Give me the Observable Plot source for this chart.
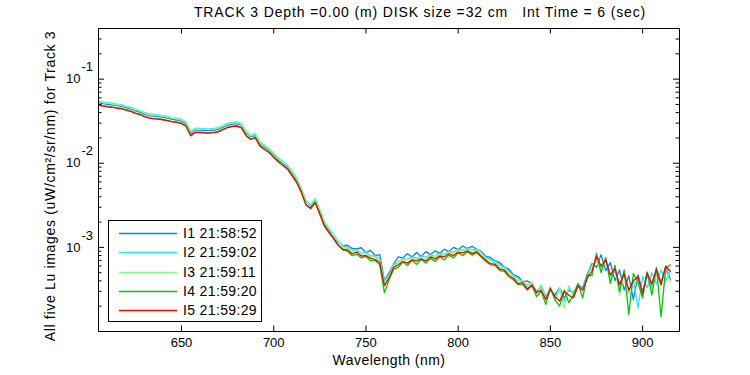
<!DOCTYPE html>
<html>
<head>
<meta charset="utf-8">
<script src="https://cdn.jsdelivr.net/npm/d3@7"></script>
<script src="https://cdn.jsdelivr.net/npm/@observablehq/plot@0.6"></script>
<style>
  html, body { margin: 0; padding: 0; background: #fff; }
  #wrap { position: relative; width: 750px; height: 375px; font-family: "Liberation Sans", Arial, sans-serif; }
  #title { position: absolute; left: 0; width: 840px; top: 4px; text-align: center; font-size: 14px; letter-spacing: 0.85px; color: #000; white-space: pre; }
  #legend { position: absolute; left: 108px; top: 220px; width: 154px; height: 102px; border: 1px solid #000; background: #fff; box-sizing: border-box; }
  .lg { position: absolute; left: 0; width: 152px; height: 18px; font-size: 14px; line-height: 18px; letter-spacing: 0.35px; white-space: nowrap; }
  .lg svg { position: absolute; left: 10px; top: 8px; }
  .lg span.tx { position: absolute; left: 74px; top: 0; }
</style>
</head>
<body>
<div id="wrap"></div>
<script>
// ---------- data ----------
const titleText = "TRACK 3 Depth =0.00 (m) DISK size =32 cm   Int Time = 6 (sec)";
const xLabel = "Wavelength (nm)";
const yLabel = "All five Lu images (uW/cm²/sr/nm) for Track 3";
const seriesNames = ["I1 21:58:52", "I2 21:59:02", "I3 21:59:11", "I4 21:59:20", "I5 21:59:29"];
const seriesColors = ["#0a7cff", "#22e8ff", "#80ff80", "#00c800", "#ff0000"];
const xTicks = [650, 700, 750, 800, 850, 900];
const yMajorTicks = [1e-1, 1e-2, 1e-3];
const yMinorTicks = [2e-4,3e-4,4e-4,5e-4,6e-4,7e-4,8e-4,9e-4, 2e-3,3e-3,4e-3,5e-3,6e-3,7e-3,8e-3,9e-3, 2e-2,3e-2,4e-2,5e-2,6e-2,7e-2,8e-2,9e-2, 2e-1,3e-1,4e-1];
const xDomain = [605, 920];
const yDomain = [1e-4, 0.4];
// sample wavelengths (nm): 605 to 915 every 2.5 nm
const wavelengths = d3.range(605, 915.01, 2.5);

// rows: 605-737.5 | 740-810 | 812.5-837.5 | 840-915
const i1 = [
.0524,.0511,.0502,.0495,.0483,.0475,.0457,.0442,.0418,.0406,.0384,.0368,.0364,.0358,.0352,.0343,.0332,.0327,.0317,.0294,
.0230,.0249,.0248,.0246,.0244,.0247,.0254,.0269,.0285,.0292,.0296,.0283,.0230,.0206,.0215,.0173,.0156,.0143,.0127,.0111,
.0101,.0091,.0076,.0063,.0048,.0035,.0031,.0036,.0027,.0019,.00161,.00136,.00115,.00105,
.00106,.00097,.00096,.00099,.00086,.00092,.00080,.00082,.00040,.00050,.00063,.00077,.00075,.00084,.00077,.00087,.00078,.00089,.00082,.00091,
.00085,.00095,.00089,.00100,.00094,.00104,.00097,.00103,.00095,
.00090,.00078,.00076,.00069,.00066,.00058,.00055,.00047,.00045,.00039,.00040,
.00037,.00030,.00034,.00026,.00031,.00027,.00033,.00025,.00031,.00029,.00036,.00033,.00048,.00064,.00058,.00082,.00053,.00066,.00040,.00054,
.00031,.00046,.00024,.00047,.00030,.00050,.00033,.00055,.00038,.00058,.00042];
const i2 = [
.0549,.0535,.0525,.0519,.0505,.0497,.0478,.0463,.0438,.0424,.0402,.0385,.0381,.0375,.0368,.0360,.0347,.0343,.0332,.0308,
.0240,.0261,.0260,.0258,.0255,.0259,.0265,.0281,.0298,.0306,.0310,.0296,.0240,.0215,.0225,.0180,.0164,.0150,.0132,.0116,
.0105,.0095,.0080,.0066,.0050,.0036,.0032,.0038,.0028,.0020,.00168,.00141,.00119,.00104,
.00100,.00091,.00094,.00085,.00088,.00079,.00079,.00072,.00039,.00047,.00062,.00067,.00074,.00072,.00077,.00074,.00079,.00076,.00082,.00078,
.00086,.00083,.00090,.00088,.00095,.00093,.00099,.00093,.00095,
.00088,.00076,.00072,.00068,.00062,.00058,.00052,.00046,.00043,.00038,.00036,
.00038,.00029,.00036,.00026,.00033,.00024,.00032,.00023,.00033,.00028,.00037,.00032,.00046,.00060,.00071,.00058,.00068,.00046,.00052,.00036,
.00048,.00029,.00042,.00019,.00045,.00033,.00050,.00037,.00054,.00040,.00052];
const i3 = [
.0539,.0526,.0516,.0509,.0496,.0488,.0470,.0454,.0430,.0417,.0395,.0378,.0374,.0369,.0362,.0353,.0341,.0337,.0326,.0303,
.0236,.0256,.0255,.0253,.0251,.0254,.0261,.0276,.0293,.0300,.0305,.0290,.0236,.0211,.0221,.0177,.0161,.0147,.0130,.0114,
.0103,.0094,.0078,.0065,.0050,.0035,.0032,.0037,.0028,.0020,.00165,.00139,.00117,.00101,
.00096,.00090,.00091,.00084,.00085,.00077,.00077,.00071,.00037,.00046,.00060,.00066,.00072,.00071,.00075,.00072,.00076,.00075,.00079,.00077,
.00082,.00081,.00087,.00086,.00092,.00091,.00095,.00092,.00092,
.00084,.00075,.00069,.00066,.00058,.00057,.00049,.00045,.00040,.00040,.00034,
.00039,.00028,.00036,.00024,.00034,.00023,.00033,.00019,.00035,.00026,.00036,.00031,.00044,.00060,.00069,.00052,.00071,.00042,.00058,.00027,
.00050,.00031,.00035,.00042,.00029,.00047,.00032,.00051,.00035,.00054,.00039];
const i4 = [
.0495,.0482,.0474,.0466,.0455,.0448,.0431,.0417,.0395,.0383,.0362,.0347,.0340,.0336,.0331,.0322,.0313,.0309,.0299,.0277,
.0218,.0233,.0233,.0232,.0230,.0233,.0239,.0253,.0268,.0276,.0280,.0266,.0215,.0193,.0203,.0163,.0147,.0135,.0119,.0105,
.0095,.0086,.0072,.0060,.0045,.0032,.0029,.0034,.0025,.0018,.00151,.00127,.00106,.00093,
.00090,.00080,.00083,.00075,.00078,.00069,.00070,.00062,.00029,.00041,.00055,.00058,.00067,.00061,.00070,.00063,.00072,.00065,.00074,.00068,
.00077,.00071,.00081,.00075,.00086,.00080,.00089,.00081,.00086,
.00077,.00068,.00062,.00061,.00053,.00052,.00045,.00041,.00036,.00036,.00031,
.00035,.00026,.00030,.00021,.00033,.00024,.00020,.00031,.00022,.00027,.00037,.00025,.00047,.00046,.00085,.00050,.00076,.00037,.00061,.00030,
.00054,.00016,.00049,.00038,.00025,.00051,.00027,.00058,.00015,.00056,.00062];
const i5 = [
.0490,.0478,.0469,.0463,.0451,.0444,.0427,.0413,.0391,.0379,.0359,.0344,.0340,.0335,.0329,.0321,.0310,.0306,.0296,.0275,
.0212,.0233,.0232,.0230,.0228,.0231,.0237,.0251,.0266,.0273,.0277,.0264,.0213,.0192,.0201,.0161,.0146,.0134,.0118,.0104,
.0094,.0085,.0071,.0059,.0045,.0032,.0029,.0034,.0025,.0018,.00150,.00126,.00106,.00095,
.00093,.00084,.00088,.00079,.00080,.00074,.00072,.00066,.00035,.00043,.00058,.00062,.00068,.00065,.00071,.00069,.00073,.00069,.00077,.00073,
.00079,.00077,.00084,.00080,.00088,.00086,.00091,.00085,.00089,
.00079,.00071,.00064,.00063,.00055,.00054,.00046,.00043,.00037,.00038,.00032,
.00036,.00029,.00031,.00024,.00032,.00026,.00023,.00030,.00027,.00025,.00035,.00031,.00043,.00052,.00078,.00060,.00071,.00047,.00056,.00036,
.00049,.00031,.00040,.00045,.00028,.00049,.00037,.00055,.00036,.00060,.00052];
const seriesValues = [i1, i2, i3, i4, i5];

// ---------- chart ----------
const W = 750, H = 375, mL = 98, mR = 71, mT = 28, mB = 44;
const plotW = W - mL - mR, plotH = H - mT - mB;
const font = "Liberation Sans, Arial, sans-serif";

const lineMarks = seriesValues.map((vals, k) => {
  const n = Math.min(vals.length, wavelengths.length);
  const rows = d3.range(n).map(i => ({wl: wavelengths[i], v: vals[i]}));
  return Plot.line(rows, {x: "wl", y: "v", stroke: seriesColors[k], strokeWidth: 1.3, clip: true});
});

const chart = Plot.plot({
  width: W, height: H,
  marginLeft: mL, marginRight: mR, marginTop: mT, marginBottom: mB,
  style: {fontFamily: font, background: "#fff", color: "#000"},
  x: {domain: xDomain, axis: null},
  y: {type: "log", domain: yDomain, axis: null},
  marks: [
    ...lineMarks,
    Plot.frame({stroke: "#000", strokeWidth: 1}),
    Plot.tickX(xTicks, {x: d => d, stroke: "#000", insetTop: plotH - 5.5}),
    Plot.tickX(xTicks, {x: d => d, stroke: "#000", insetBottom: plotH - 5.5}),
    Plot.tickY(yMajorTicks, {y: d => d, stroke: "#000", insetRight: plotW - 6}),
    Plot.tickY(yMajorTicks, {y: d => d, stroke: "#000", insetLeft: plotW - 6}),
    Plot.tickY(yMinorTicks, {y: d => d, stroke: "#000", insetRight: plotW - 3.5}),
    Plot.tickY(yMinorTicks, {y: d => d, stroke: "#000", insetLeft: plotW - 3.5}),
    Plot.text(xTicks, {x: d => d, text: d => String(d), frameAnchor: "bottom", dy: 15, fontSize: 13, fill: "#000"}),
    Plot.text(yMajorTicks, {y: d => d, text: () => "10", frameAnchor: "left", dx: -18, textAnchor: "end", fontSize: 13, fill: "#000"}),
    Plot.text(yMajorTicks, {y: d => d, text: d => String(Math.round(Math.log10(d))), frameAnchor: "left", dx: -17, dy: -12, textAnchor: "start", fontSize: 13, fill: "#000"}),
    Plot.text([xLabel], {text: d => d, frameAnchor: "bottom", dy: 33, fontSize: 14, fill: "#000"}),
    Plot.text([yLabel], {text: d => d, frameAnchor: "left", textAnchor: "middle", dx: -48, dy: 6, rotate: -90, fontSize: 14, fill: "#000"})
  ]
});

// letter spacing of the axis titles (MATLAB text is slightly wider)
d3.select(chart).selectAll("text").each(function() {
  if (this.textContent === yLabel) this.style.letterSpacing = "0.68px";
  if (this.textContent === xLabel) this.style.letterSpacing = "0.45px";
});

const wrap = document.getElementById("wrap");
wrap.appendChild(chart);

const title = document.createElement("div");
title.id = "title";
title.textContent = titleText;
wrap.appendChild(title);

const legend = document.createElement("div");
legend.id = "legend";
const rowTops = [3, 22, 42, 61, 80];
seriesNames.forEach((name, k) => {
  const row = document.createElement("div");
  row.className = "lg";
  row.style.top = rowTops[k] + "px";
  const sw = document.createElementNS("http://www.w3.org/2000/svg", "svg");
  sw.setAttribute("width", "58");
  sw.setAttribute("height", "3");
  const ln = document.createElementNS("http://www.w3.org/2000/svg", "line");
  ln.setAttribute("x1", "0"); ln.setAttribute("x2", "58");
  ln.setAttribute("y1", "1.5"); ln.setAttribute("y2", "1.5");
  ln.setAttribute("stroke", seriesColors[k]);
  ln.setAttribute("stroke-width", "1.3");
  sw.appendChild(ln);
  const tx = document.createElement("span");
  tx.className = "tx";
  tx.textContent = name;
  row.appendChild(sw); row.appendChild(tx);
  legend.appendChild(row);
});
wrap.appendChild(legend);
</script>
</body>
</html>
